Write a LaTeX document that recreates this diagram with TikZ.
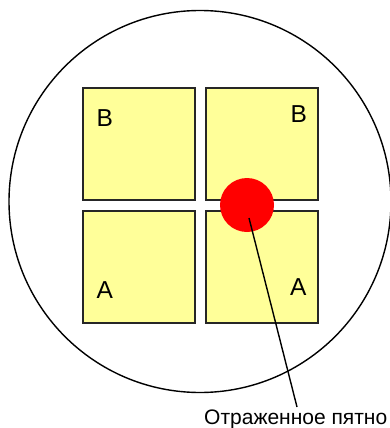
\documentclass[tikz,border=0pt]{standalone}
\usepackage{fontspec}
\setmainfont{Liberation Sans}
\definecolor{padyellow}{RGB}{255,255,153}
\definecolor{spotred}{RGB}{255,0,0}
\begin{document}
\begin{tikzpicture}[x=1pt,y=-1pt,
  pad/.style={draw=black!85,line width=2pt,fill=padyellow,minimum size=112pt,inner sep=0pt,outer sep=0pt},
  lett/.style={font=\fontsize{24.5}{24.5}\selectfont,inner sep=0pt,anchor=base west}]
\useasboundingbox (0,0) rectangle (390,428);
\clip (0,0) rectangle (390,428);
\draw[line width=1.4pt] (200,201.5) circle[radius=191];
\node[pad] (tl) at (139,144) {};
\node[pad] (tr) at (262,144) {};
\node[pad] (bl) at (139,267) {};
\node[pad] (br) at (262,267) {};
\node[lett] (btl) at (96.5,126.8) {B};
\node[lett] (btr) at (290.5,122.8) {B};
\node[lett] (abl) at (96.5,298.3) {A};
\node[lett] (abr) at (290,295) {A};
\node[circle,fill=spotred,minimum size=54pt,inner sep=0pt] (spot) at (247,205) {};
\node[font=\fontsize{21}{21}\selectfont,inner sep=0pt,anchor=base west] (label) at (204,424.5) {Отраженное пятно};
\coordinate (s) at (249,218);
\coordinate (e) at (297,407);
\draw[line width=1.4pt] (s) -- (e);
\end{tikzpicture}
\end{document}
